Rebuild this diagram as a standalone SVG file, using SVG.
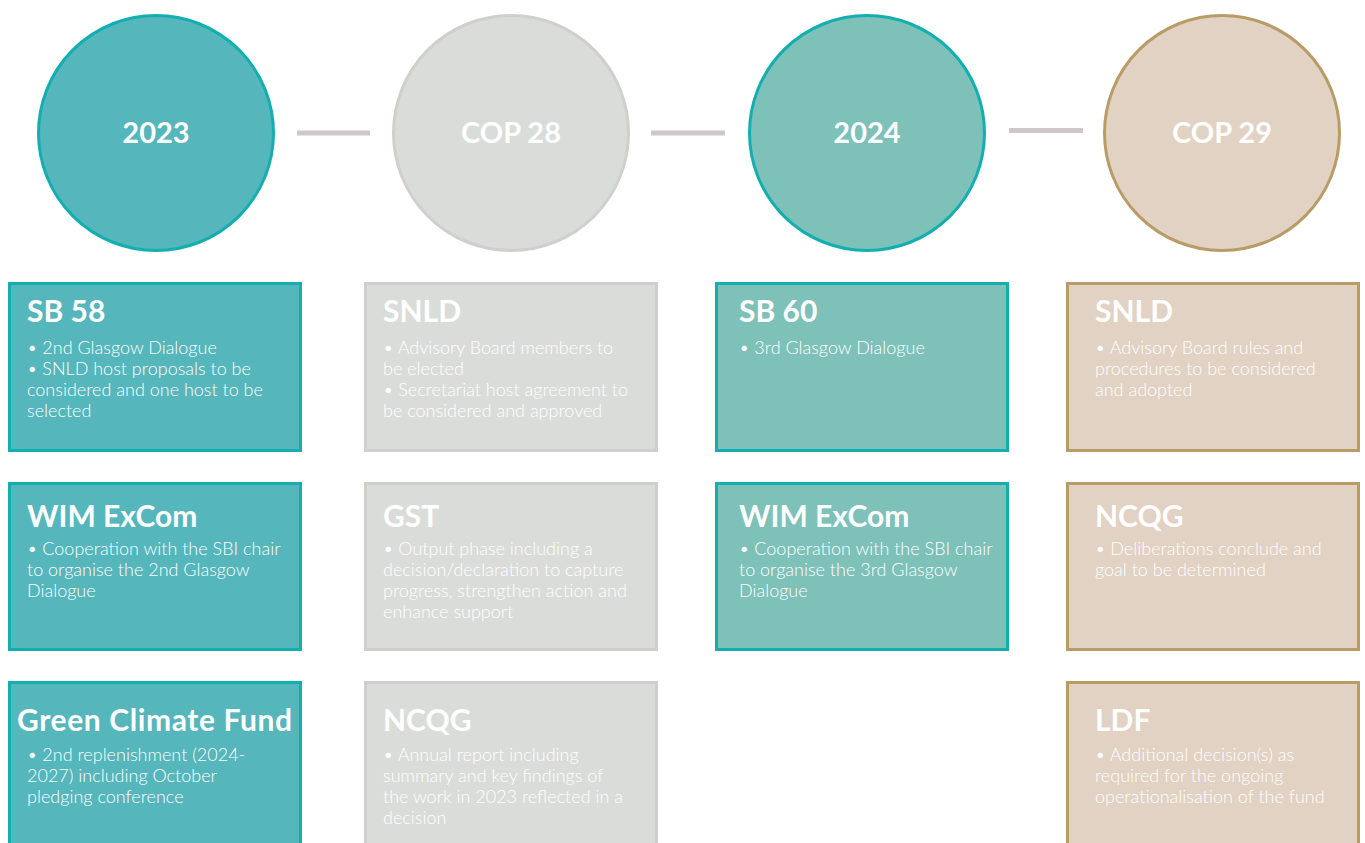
<svg xmlns="http://www.w3.org/2000/svg" width="1365" height="843" viewBox="0 0 1365 843">
<style>
.t{font-family:Lato,"Noto Sans","Liberation Sans",sans-serif;fill:#ffffff}
.h{font-size:30px;font-weight:700}
.c{font-size:29px;font-weight:700;text-anchor:middle}
.b{font-size:18px;font-weight:300}
.teal1{fill:#55b6bb;stroke:#13aeb0;stroke-width:3}
.teal2{fill:#7dc1b9;stroke:#13aeb0;stroke-width:3}
.grey{fill:#dadcd9;stroke:#cfd0ce;stroke-width:3}
.tan{fill:#e1d2c3;stroke:#b99b65;stroke-width:3}
.con{fill:#cec8c8}
</style>
<rect width="1365" height="843" fill="#ffffff"/>
<g id="connectors">
<rect class="con" x="297" y="130.5" width="73" height="5"/>
<rect class="con" x="651" y="130.5" width="74" height="5"/>
<rect class="con" x="1009" y="128" width="74" height="5"/>
</g>
<g id="c2023"><circle class="teal1" cx="156" cy="133" r="117.5"/><text class="t c" x="156" y="143">2023</text></g>
<g id="cCOP28"><circle class="grey" cx="511" cy="133" r="117.5"/><text class="t c" x="511" y="143">COP 28</text></g>
<g id="c2024"><circle class="teal2" cx="867" cy="133" r="117.5"/><text class="t c" x="867" y="143">2024</text></g>
<g id="cCOP29"><circle class="tan" cx="1222" cy="133" r="117.5"/><text class="t c" x="1222" y="143">COP 29</text></g>

<g id="sb58"><rect class="teal1" x="9.5" y="283.5" width="291" height="167"/>
<text class="t h" x="27" y="322">SB 58</text>
<text class="t b"><tspan x="27" y="354">• 2nd Glasgow Dialogue</tspan><tspan x="27" y="375">• SNLD host proposals to be</tspan><tspan x="27" y="396">considered and one host to be</tspan><tspan x="27" y="417">selected</tspan></text></g>

<g id="wim2023"><rect class="teal1" x="9.5" y="483.5" width="291" height="166"/>
<text class="t h" x="27" y="527">WIM ExCom</text>
<text class="t b"><tspan x="27" y="555">• Cooperation with the SBI chair</tspan><tspan x="27" y="576">to organise the 2nd Glasgow</tspan><tspan x="27" y="597">Dialogue</tspan></text></g>

<g id="gcf"><rect class="teal1" x="9.5" y="682.5" width="291" height="170"/>
<text class="t h" x="17" y="731" textLength="275" lengthAdjust="spacing">Green Climate Fund</text>
<text class="t b"><tspan x="27" y="761">• 2nd replenishment (2024-</tspan><tspan x="27" y="782">2027) including October</tspan><tspan x="27" y="803">pledging conference</tspan></text></g>

<g id="snld28"><rect class="grey" x="365.5" y="283.5" width="291" height="167"/>
<text class="t h" x="383" y="322">SNLD</text>
<text class="t b"><tspan x="383" y="354">• Advisory Board members to</tspan><tspan x="383" y="375">be elected</tspan><tspan x="383" y="396">• Secretariat host agreement to</tspan><tspan x="383" y="417">be considered and approved</tspan></text></g>

<g id="gst"><rect class="grey" x="365.5" y="483.5" width="291" height="166"/>
<text class="t h" x="383" y="527">GST</text>
<text class="t b"><tspan x="383" y="555">• Output phase including a</tspan><tspan x="383" y="576">decision/declaration to capture</tspan><tspan x="383" y="597">progress, strengthen action and</tspan><tspan x="383" y="618">enhance support</tspan></text></g>

<g id="ncqg28"><rect class="grey" x="365.5" y="682.5" width="291" height="170"/>
<text class="t h" x="383" y="731">NCQG</text>
<text class="t b"><tspan x="383" y="761">• Annual report including</tspan><tspan x="383" y="782">summary and key findings of</tspan><tspan x="383" y="803">the work in 2023 reflected in a</tspan><tspan x="383" y="824">decision</tspan></text></g>

<g id="sb60"><rect class="teal2" x="716.5" y="283.5" width="291" height="167"/>
<text class="t h" x="739" y="322">SB 60</text>
<text class="t b"><tspan x="739" y="354">• 3rd Glasgow Dialogue</tspan></text></g>

<g id="wim2024"><rect class="teal2" x="716.5" y="483.5" width="291" height="166"/>
<text class="t h" x="739" y="527">WIM ExCom</text>
<text class="t b"><tspan x="739" y="555">• Cooperation with the SBI chair</tspan><tspan x="739" y="576">to organise the 3rd Glasgow</tspan><tspan x="739" y="597">Dialogue</tspan></text></g>

<g id="snld29"><rect class="tan" x="1067.5" y="283.5" width="291" height="167"/>
<text class="t h" x="1095" y="322">SNLD</text>
<text class="t b"><tspan x="1095" y="354">• Advisory Board rules and</tspan><tspan x="1095" y="375">procedures to be considered</tspan><tspan x="1095" y="396">and adopted</tspan></text></g>

<g id="ncqg29"><rect class="tan" x="1067.5" y="483.5" width="291" height="166"/>
<text class="t h" x="1095" y="527">NCQG</text>
<text class="t b"><tspan x="1095" y="555">• Deliberations conclude and</tspan><tspan x="1095" y="576">goal to be determined</tspan></text></g>

<g id="ldf"><rect class="tan" x="1067.5" y="682.5" width="291" height="170"/>
<text class="t h" x="1095" y="731">LDF</text>
<text class="t b"><tspan x="1095" y="761">• Additional decision(s) as</tspan><tspan x="1095" y="782">required for the ongoing</tspan><tspan x="1095" y="803">operationalisation of the fund</tspan></text></g>
</svg>
